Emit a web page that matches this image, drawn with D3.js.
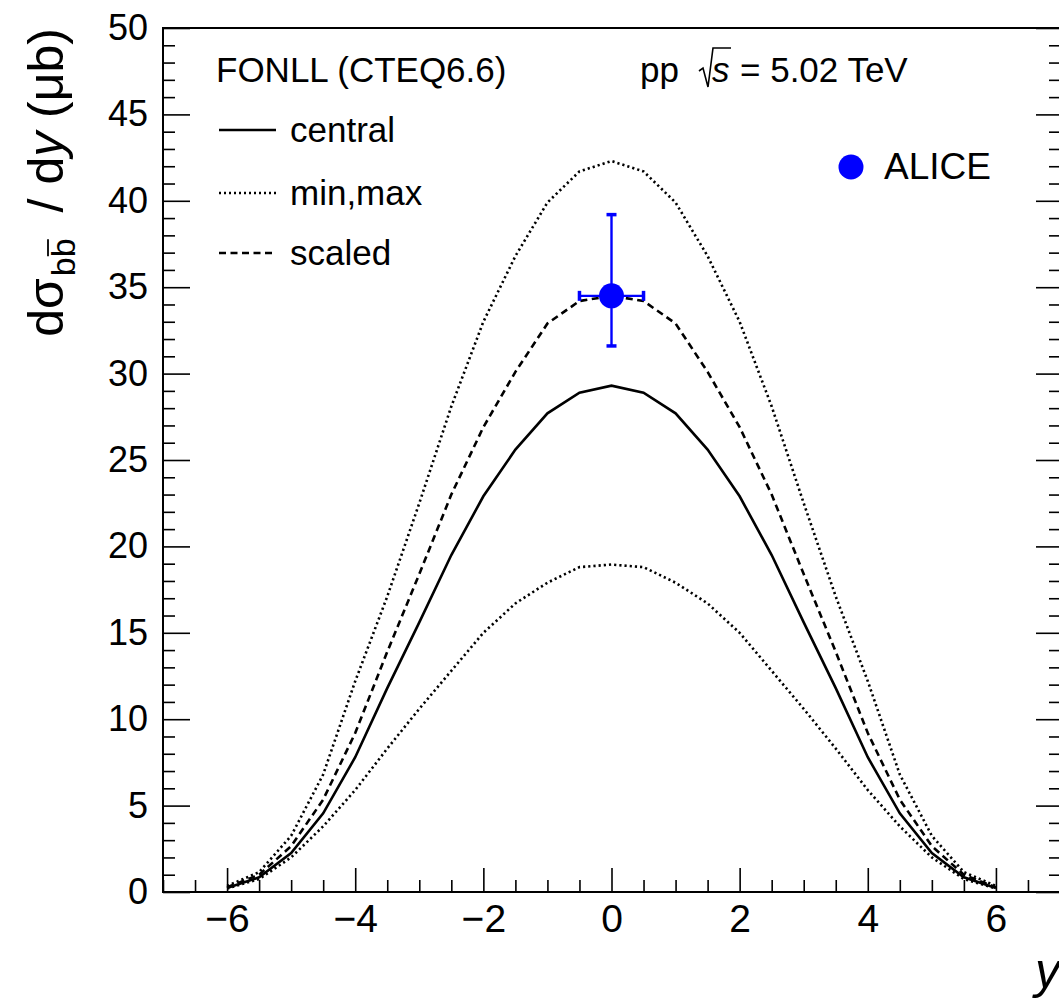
<!DOCTYPE html>
<html>
<head>
<meta charset="utf-8">
<script src="https://cdn.jsdelivr.net/npm/d3@7"></script>
<style>
  body { margin: 0; background: #fff; }
  svg { display: block; font-family: "Liberation Sans", Arial, sans-serif; }
</style>
</head>
<body>
<svg></svg>
<script>
let width = 1059, height = 1001;
let svg = d3.select("svg")
    .attr("width", width)
    .attr("height", height);

// rapidity points and FONLL curves
const rapidity = [-6, -5.5, -5, -4.5, -4, -3.5, -3, -2.5, -2, -1.5, -1, -0.5, 0,
                  0.5, 1, 1.5, 2, 2.5, 3, 3.5, 4, 4.5, 5, 5.5, 6];
const central = [0.23, 0.85, 2.25, 4.55, 7.8, 11.8, 15.6, 19.5, 22.9, 25.6, 27.7, 28.9, 29.3,
                 28.9, 27.7, 25.6, 22.9, 19.5, 15.6, 11.8, 7.8, 4.55, 2.25, 0.85, 0.23];
const scaled  = [0.27, 1.0, 2.65, 5.35, 9.2, 13.9, 18.4, 23.0, 26.9, 30.1, 32.9, 34.2, 34.5,
                 34.2, 32.9, 30.1, 26.9, 23.0, 18.4, 13.9, 9.2, 5.35, 2.65, 1.0, 0.27];
const maxCurve = [0.35, 1.15, 3.25, 6.8, 12.2, 17.1, 22.5, 28.1, 33.0, 36.8, 39.9, 41.7, 42.3,
                  41.7, 39.9, 36.8, 33.0, 28.1, 22.5, 17.1, 12.2, 6.8, 3.25, 1.15, 0.35];
const minCurve = [0.2, 0.75, 2.0, 3.8, 5.9, 8.3, 10.6, 12.8, 15.0, 16.7, 17.9, 18.8, 18.95,
                  18.8, 17.9, 16.7, 15.0, 12.8, 10.6, 8.3, 5.9, 3.8, 2.0, 0.75, 0.2];

// ALICE measurement
const aliceY = [0];
const aliceVal = [34.5];
const aliceXerr = [0.5];
const aliceHi = [39.2];
const aliceLo = [31.6];

// axis ticks
const xMajor = [-6, -4, -2, 0, 2, 4, 6];
const yMajor = [0, 5, 10, 15, 20, 25, 30, 35, 40, 45, 50];

// frame
let padL = 163, padR = 1060, padT = 28, padB = 892;
let x = d3.scaleLinear().domain([-7, 7]).range([padL, padR]);
let y = d3.scaleLinear().domain([0, 50]).range([padB, padT]);

let xMinor = d3.range(-7, 7.01, 0.5).filter(v => xMajor.indexOf(v) < 0);
let yMinor = d3.range(0, 50.01, 1).filter(v => yMajor.indexOf(v) < 0);

// left axis
let gy = svg.append("g").attr("transform", "translate(" + padL + ",0)")
    .call(d3.axisLeft(y).tickValues(yMajor).tickSizeInner(-27).tickSizeOuter(0).tickPadding(15));
svg.append("g").attr("transform", "translate(" + padL + ",0)")
    .call(d3.axisLeft(y).tickValues(yMinor).tickSizeInner(-12).tickSizeOuter(0).tickFormat(""));
// right axis
svg.append("g").attr("transform", "translate(" + padR + ",0)")
    .call(d3.axisRight(y).tickValues(yMajor).tickSizeInner(-24).tickSizeOuter(0).tickFormat(""));
svg.append("g").attr("transform", "translate(" + padR + ",0)")
    .call(d3.axisRight(y).tickValues(yMinor).tickSizeInner(-11).tickSizeOuter(0).tickFormat(""));
// bottom axis
let gx = svg.append("g").attr("transform", "translate(0," + padB + ")")
    .call(d3.axisBottom(x).tickValues(xMajor).tickSizeInner(-24).tickSizeOuter(0).tickPadding(12));
svg.append("g").attr("transform", "translate(0," + padB + ")")
    .call(d3.axisBottom(x).tickValues(xMinor).tickSizeInner(-12).tickSizeOuter(0).tickFormat(""));

svg.selectAll(".domain").remove();
svg.selectAll(".tick line").attr("stroke", "#000").attr("stroke-width", 1.6);
gy.selectAll("text").style("font-size", "36px").attr("fill", "#000")
    .attr("font-family", "Liberation Sans, Arial, sans-serif");
gx.selectAll("text").style("font-size", "39px").attr("fill", "#000")
    .attr("font-family", "Liberation Sans, Arial, sans-serif");

// frame box
svg.append("rect")
    .attr("x", padL).attr("y", padT)
    .attr("width", padR - padL).attr("height", padB - padT)
    .attr("fill", "none").attr("stroke", "#000").attr("stroke-width", 2);

// curves
let line = d3.line()
    .x((d, i) => x(rapidity[i]))
    .y(d => y(d));

let curves = [
    {vals: central, dash: null},
    {vals: scaled, dash: "7,4.5"},
    {vals: maxCurve, dash: "2.2,3"},
    {vals: minCurve, dash: "2.2,3"}
];
curves.forEach(c => {
    svg.append("path")
        .attr("d", line(c.vals))
        .attr("fill", "none")
        .attr("stroke", "#000")
        .attr("stroke-width", 2.6)
        .attr("stroke-dasharray", c.dash);
});

// ALICE point with error bars
let blue = "#0000ff";
aliceY.forEach((v, i) => {
    let cx = x(v), cy = y(aliceVal[i]);
    let x0 = x(v - aliceXerr[i]), x1 = x(v + aliceXerr[i]);
    let yh = y(aliceHi[i]), yl = y(aliceLo[i]);
    let g = svg.append("g").attr("stroke", blue).attr("stroke-width", 2.4);
    g.append("line").attr("x1", cx).attr("x2", cx).attr("y1", yh).attr("y2", yl);
    g.append("line").attr("x1", x0).attr("x2", x1).attr("y1", cy).attr("y2", cy);
    g.append("line").attr("x1", cx - 5).attr("x2", cx + 5).attr("y1", yh).attr("y2", yh).attr("stroke-width", 3.5);
    g.append("line").attr("x1", cx - 5).attr("x2", cx + 5).attr("y1", yl).attr("y2", yl).attr("stroke-width", 3.5);
    g.append("line").attr("x1", x0).attr("x2", x0).attr("y1", cy - 5).attr("y2", cy + 5).attr("stroke-width", 3.5);
    g.append("line").attr("x1", x1).attr("x2", x1).attr("y1", cy - 5).attr("y2", cy + 5).attr("stroke-width", 3.5);
    svg.append("circle").attr("cx", cx).attr("cy", cy).attr("r", 12.5).attr("fill", blue);
});

// legend
let font = "Liberation Sans, Arial, sans-serif";
svg.append("text").attr("x", 216).attr("y", 82)
    .attr("font-family", font).style("font-size", "35px").text("FONLL (CTEQ6.6)");

let legItems = [
    {label: "central", dash: null, yy: 130},
    {label: "min,max", dash: "2,3", yy: 193},
    {label: "scaled", dash: "7,4.5", yy: 253}
];
legItems.forEach(d => {
    svg.append("line")
        .attr("x1", 219).attr("x2", 276)
        .attr("y1", d.yy).attr("y2", d.yy)
        .attr("stroke", "#000").attr("stroke-width", 2.4)
        .attr("stroke-dasharray", d.dash);
    svg.append("text").attr("x", 290).attr("y", d.yy + 12)
        .attr("font-family", font).style("font-size", "35px").text(d.label);
});

// pp sqrt(s) label
svg.append("text").attr("x", 640).attr("y", 82)
    .attr("font-family", font).style("font-size", "35px").text("pp");
svg.append("path")
    .attr("d", "M699,71 L703,68 L708,87 L713,48 L731,48")
    .attr("fill", "none").attr("stroke", "#000").attr("stroke-width", 1.6);
svg.append("text").attr("x", 712).attr("y", 82)
    .attr("font-family", font).style("font-size", "35px").style("font-style", "italic").text("s");
svg.append("text").attr("x", 740).attr("y", 82)
    .attr("font-family", font).style("font-size", "35px").text("= 5.02 TeV");

// ALICE legend
svg.append("circle").attr("cx", 851).attr("cy", 167).attr("r", 12.5).attr("fill", blue);
svg.append("text").attr("x", 884).attr("y", 179)
    .attr("font-family", font).style("font-size", "37px").text("ALICE");

// axis titles
svg.append("text")
    .attr("x", 1060).attr("y", 988)
    .attr("text-anchor", "end")
    .attr("font-family", font).style("font-size", "50px").style("font-style", "italic")
    .text("y");

let yt = svg.append("text")
    .attr("transform", "translate(63,28) rotate(-90)")
    .attr("text-anchor", "end")
    .attr("font-family", font).style("font-size", "50px");
yt.append("tspan").text("dσ");
yt.append("tspan").attr("dy", 12).attr("dx", 2).style("font-size", "34px").text("b");
yt.append("tspan").attr("id", "bbar").style("font-size", "34px").text("b");
yt.append("tspan").attr("dy", -12).attr("dx", 12).text(" / d");
yt.append("tspan").style("font-style", "italic").text("y");
yt.append("tspan").text(" (μb)");

// overline on the anti-b
let bb = document.getElementById("bbar");
let p0 = bb.getStartPositionOfChar(0), p1 = bb.getEndPositionOfChar(0);
svg.append("line")
    .attr("transform", "translate(63,28) rotate(-90)")
    .attr("x1", p0.x + 1).attr("x2", p1.x - 1)
    .attr("y1", p0.y - 27).attr("y2", p0.y - 27)
    .attr("stroke", "#000").attr("stroke-width", 1.8);
</script>
</body>
</html>
